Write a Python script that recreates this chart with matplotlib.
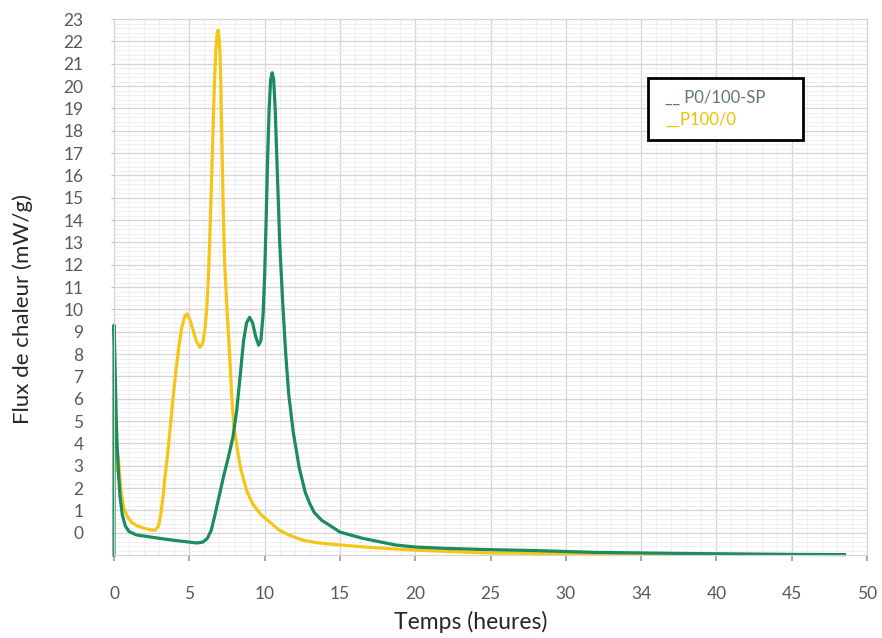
import numpy as np
import matplotlib.pyplot as plt
from matplotlib.patches import Rectangle
from matplotlib.ticker import MultipleLocator

plt.rcParams['font.family'] = ['Lato', 'DejaVu Sans']

# green curve P0/100-SP (time h, heat flow mW/g)
t_green = [0.0, 0.0, 0.05, 0.1, 0.15, 0.2, 0.3, 0.4, 0.55, 0.75, 1.0, 1.5, 2.5, 3.5, 4.5,
           5.5, 5.9, 6.2, 6.45, 6.7, 7.0, 7.3, 7.6, 7.9, 8.15, 8.4, 8.6, 8.8, 9.0, 9.2,
           9.4, 9.6, 9.75, 9.9, 10.0, 10.1, 10.2, 10.3, 10.4, 10.5, 10.6, 10.7, 10.8,
           10.9, 11.0, 11.2, 11.4, 11.6, 11.9, 12.3, 12.7, 13.0, 13.3, 13.8, 14.3, 15.0,
           16.5, 18.7, 20.0, 22.0, 24.5, 28.0, 32.0, 38.0, 45.0, 48.5]
q_green = [-1.0, 9.3, 8.0, 6.5, 5.0, 4.0, 2.6, 1.6, 0.8, 0.3, 0.05, -0.1, -0.2, -0.3, -0.38,
           -0.46, -0.42, -0.25, 0.1, 0.8, 1.7, 2.6, 3.4, 4.3, 5.5, 7.2, 8.6, 9.4, 9.65, 9.4,
           8.8, 8.4, 8.6, 9.8, 11.5, 14.0, 16.8, 19.0, 20.3, 20.6, 20.3, 19.0, 17.0,
           15.0, 13.0, 10.3, 8.0, 6.2, 4.5, 2.9, 1.8, 1.3, 0.9, 0.55, 0.34, 0.03,
           -0.25, -0.55, -0.64, -0.7, -0.75, -0.8, -0.88, -0.93, -0.97, -0.98]

# yellow curve P100/0
t_yellow = [0.1, 0.15, 0.22, 0.3, 0.4, 0.5, 0.65, 0.9, 1.2, 1.5, 2.0, 2.5, 2.75, 2.95,
            3.1, 3.25, 3.4, 3.6, 3.9, 4.1, 4.3, 4.5, 4.7, 4.85, 5.0, 5.2, 5.45, 5.7, 5.9,
            6.05, 6.15, 6.25, 6.35, 6.45, 6.55, 6.65, 6.75, 6.85, 6.92, 7.0, 7.08, 7.15,
            7.25, 7.35, 7.5, 7.65, 7.8, 7.95, 8.2, 8.4, 8.8, 9.2, 9.7, 10.2, 10.9, 11.6,
            12.5, 13.5, 15.0, 17.5, 20.0, 24.5, 32.0, 45.0]
q_yellow = [2.8, 3.4, 3.6, 3.2, 2.4, 1.7, 1.1, 0.7, 0.45, 0.32, 0.2, 0.12, 0.12, 0.3,
            0.8, 1.6, 2.6, 3.8, 5.9, 7.2, 8.3, 9.2, 9.7, 9.8, 9.6, 9.2, 8.6, 8.3, 8.5,
            9.2, 10.0, 11.2, 13.0, 15.2, 17.5, 19.8, 21.5, 22.4, 22.5, 22.0, 20.5, 18.0,
            14.5, 12.0, 10.0, 8.3, 6.3, 4.8, 3.7, 2.9, 1.9, 1.3, 0.85, 0.56, 0.15, -0.1,
            -0.33, -0.45, -0.55, -0.68, -0.78, -0.9, -0.95, -0.98]

x_ticks = [0, 5, 10, 15, 20, 25, 30, 35, 40, 45, 50]
x_labels = ['0', '5', '10', '15', '20', '25', '30', '34', '40', '45', '50']
y_ticks = list(range(0, 24))

fig = plt.figure(figsize=(8.82, 6.38), dpi=100)
ax = fig.add_axes([0.1293, 0.130, 0.8537, 0.840])

ax.plot(t_yellow, q_yellow, color='#f5c518', lw=2.3, solid_joinstyle='round')
ax.plot(t_green, q_green, color='#1b8c5c', lw=2.3, solid_joinstyle='round', clip_on=False)

ax.set_xlim(0, 50)
ax.set_ylim(-1, 23)
ax.set_xticks(x_ticks)
ax.set_xticklabels(x_labels)
ax.set_yticks(y_ticks)
ax.xaxis.set_minor_locator(MultipleLocator(1))
ax.yaxis.set_minor_locator(MultipleLocator(0.2))
ax.grid(which='major', color='#d4d4d4', lw=0.9)
ax.grid(which='minor', color='#ececec', lw=0.6)
ax.set_axisbelow(True)
for s in ax.spines.values():
    s.set_color('#d4d4d4')

ax.tick_params(axis='x', which='major', length=4, width=1.2, color='#9a9a9a',
               pad=18, labelsize=12.5, labelcolor='#595959')
ax.tick_params(axis='y', which='major', length=2, color='#bdbdbd',
               pad=20, labelsize=12.5, labelcolor='#595959')
ax.tick_params(which='minor', length=0)

ax.set_xlabel('Temps (heures)', fontsize=16.5, color='#262626', va='center')
ax.set_ylabel('Flux de chaleur (mW/g)', fontsize=16, color='#262626', va='center')
ax.xaxis.set_label_coords(0.474, -0.125)
ax.yaxis.set_label_coords(-0.121, 0.459)

# legend box drawn by hand
ax.add_patch(Rectangle((0.709, 0.774), 0.206, 0.116, transform=ax.transAxes,
                       facecolor='white', edgecolor='black', lw=2, zorder=5))
ax.text(0.732, 0.854, '__ P0/100-SP', transform=ax.transAxes, fontsize=12,
        color='#5f7a63', va='center', zorder=6)
ax.text(0.732, 0.813, '__P100/0', transform=ax.transAxes, fontsize=12,
        color='#f0c000', va='center', zorder=6)

fig.savefig('out.png', dpi=100)
